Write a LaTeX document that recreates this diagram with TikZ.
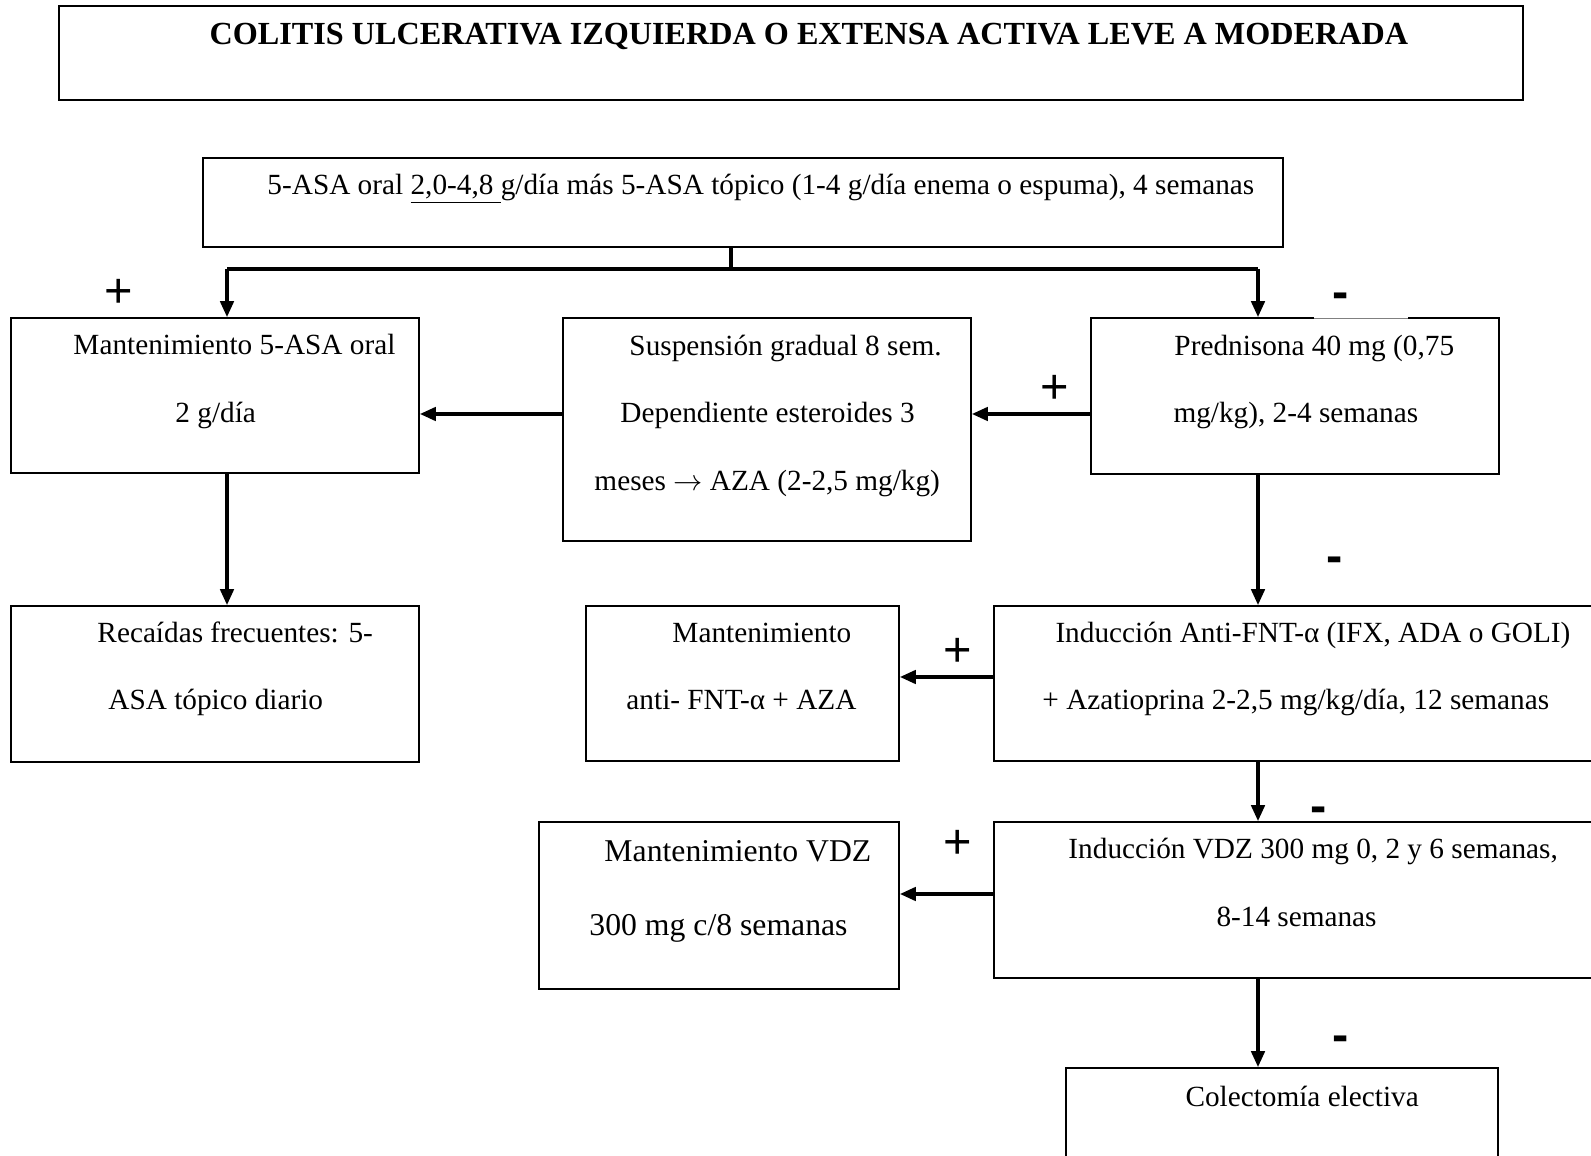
\documentclass[tikz,border=0pt]{standalone}
\usepackage{fontspec}
\setmainfont{Liberation Serif}
\newfontfamily\signfont{Liberation Sans}
\usetikzlibrary{arrows.meta,fit,calc}

\begin{document}
\begin{tikzpicture}[x=0.41pt,y=-0.41pt,
	box/.style={draw, line width=0.75pt, inner sep=0pt},
	txt/.style={anchor=base west, inner sep=0pt, font=\fontsize{12}{14}\selectfont},
	bigtxt/.style={txt, font=\fontsize{13}{15}\selectfont},
	flow/.style={line width=1.3pt, -{Triangle[length=6.5pt,width=5.5pt]}},
	plus/.style={font=\signfont\fontsize{20}{20}\selectfont, inner sep=0pt},
	minus/.style={font=\signfont\bfseries\fontsize{20}{20}\selectfont, inner sep=0pt}]

\useasboundingbox (0,0) rectangle (1591,1156);

% TITLE
\node(title)[box, fit={(59,6) (1523,100)}] {};
\node(titletxt)[anchor=base, inner sep=0pt, font=\bfseries\fontsize{13.2}{15}\selectfont]
	at (809,45) {COLITIS ULCERATIVA IZQUIERDA O EXTENSA ACTIVA LEVE A MODERADA};

% FIRST LINE TREATMENT
\node(top)[box, fit={(203,158) (1283,247)}] {};
\node(toptxt)[txt] at (267,195) {5-ASA oral \underline{2,0-4,8 }g/día más 5-ASA tópico (1-4 g/día enema o espuma), 4 semanas};

% SECOND ROW
\node(mant)[box, fit={(11,318) (419,473)}] {};
\node(mant1)[txt] at (73,355) {Mantenimiento 5-ASA oral};
\node(mant2)[txt] at (175,423) {2 g/día};

\node(susp)[box, fit={(563,318) (971,541)}] {};
\node(susp1)[txt] at (629,356) {Suspensión gradual 8 sem.};
\node(susp2)[txt] at (620,423) {Dependiente esteroides 3};
\node(susp3)[txt] at (594,491) {meses $\rightarrow$ AZA (2-2,5 mg/kg)};

\node(pred)[box, fit={(1091,318) (1499,474)}] {};
\node(pred1)[txt] at (1174,356) {Prednisona 40 mg (0,75};
\node(pred2)[txt] at (1173,423) {mg/kg), 2-4 semanas};
% gap in the top edge
\draw[white, line width=1.5pt] (1314,318) -- (1408,318);
\draw[gray, line width=0.3pt] (1314,318) -- (1408,318);

% THIRD ROW
\node(rec)[box, fit={(11,606) (419,762)}] {};
\node(rec1)[txt] at (97,643) {Recaídas frecuentes: 5-};
\node(rec2)[txt] at (108,710) {ASA tópico diario};

\node(mantfnt)[box, fit={(586,606) (899,761)}] {};
\node(mantfnt1)[txt] at (672,643) {Mantenimiento};
\node(mantfnt2)[txt] at (626,710) {anti- FNT-α + AZA};

\node(indfnt)[box, fit={(994,606) (1610,761)}] {};
\node(indfnt1)[txt] at (1055,643) {Inducción Anti-FNT-α (IFX, ADA o GOLI)};
\node(indfnt2)[txt] at (1042,710) {+ Azatioprina 2-2,5 mg/kg/día, 12 semanas};

% FOURTH ROW
\node(mantvdz)[box, fit={(539,822) (899,989)}] {};
\node(mantvdz1)[bigtxt] at (604,862) {Mantenimiento VDZ};
\node(mantvdz2)[bigtxt] at (589,935) {300 mg c/8 semanas};

\node(indvdz)[box, fit={(994,822) (1610,978)}] {};
\node(indvdz1)[txt] at (1068,859) {Inducción VDZ 300 mg 0, 2 y 6 semanas,};
\node(indvdz2)[txt] at (1216,927) {8-14 semanas};

% LAST
\node(colect)[box, fit={(1066,1068) (1498,1180)}] {};
\node(colect1)[txt] at (1185,1106) {Colectomía electiva};

% CONNECTORS
\coordinate (split) at (731,269);
\coordinate (splitL) at (227,269);
\coordinate (splitR) at (1258,269);
\coordinate (rowA) at (0,414);
\coordinate (rowB) at (0,677);
\coordinate (rowC) at (0,894);

\draw[line width=1.3pt] (split |- top.south) -- (split);
\draw[line width=1.3pt] (splitL) -- (splitR);
\draw[flow] (splitL) -- (splitL |- mant.north);
\draw[flow] (splitR) -- (splitR |- pred.north);

\draw[flow] (pred.west |- rowA) -- (susp.east |- rowA);
\draw[flow] (susp.west |- rowA) -- (mant.east |- rowA);
\draw[flow] (splitL |- mant.south) -- (splitL |- rec.north);
\draw[flow] (splitR |- pred.south) -- (splitR |- indfnt.north);
\draw[flow] (indfnt.west |- rowB) -- (mantfnt.east |- rowB);
\draw[flow] (splitR |- indfnt.south) -- (splitR |- indvdz.north);
\draw[flow] (indvdz.west |- rowC) -- (mantvdz.east |- rowC);
\draw[flow] (splitR |- indvdz.south) -- (splitR |- colect.north);

% SIGNS
\node(s1)[plus] at (119,293) {+};
\node(s2)[minus] at (1341,301) {-};
\node(s3)[plus] at (1055,389) {+};
\node(s4)[minus] at (1335,565) {-};
\node(s5)[plus] at (958,652) {+};
\node(s6)[minus] at (1319,815) {-};
\node(s7)[plus] at (958,844) {+};
\node(s8)[minus] at (1341,1044) {-};

\end{tikzpicture}
\end{document}
